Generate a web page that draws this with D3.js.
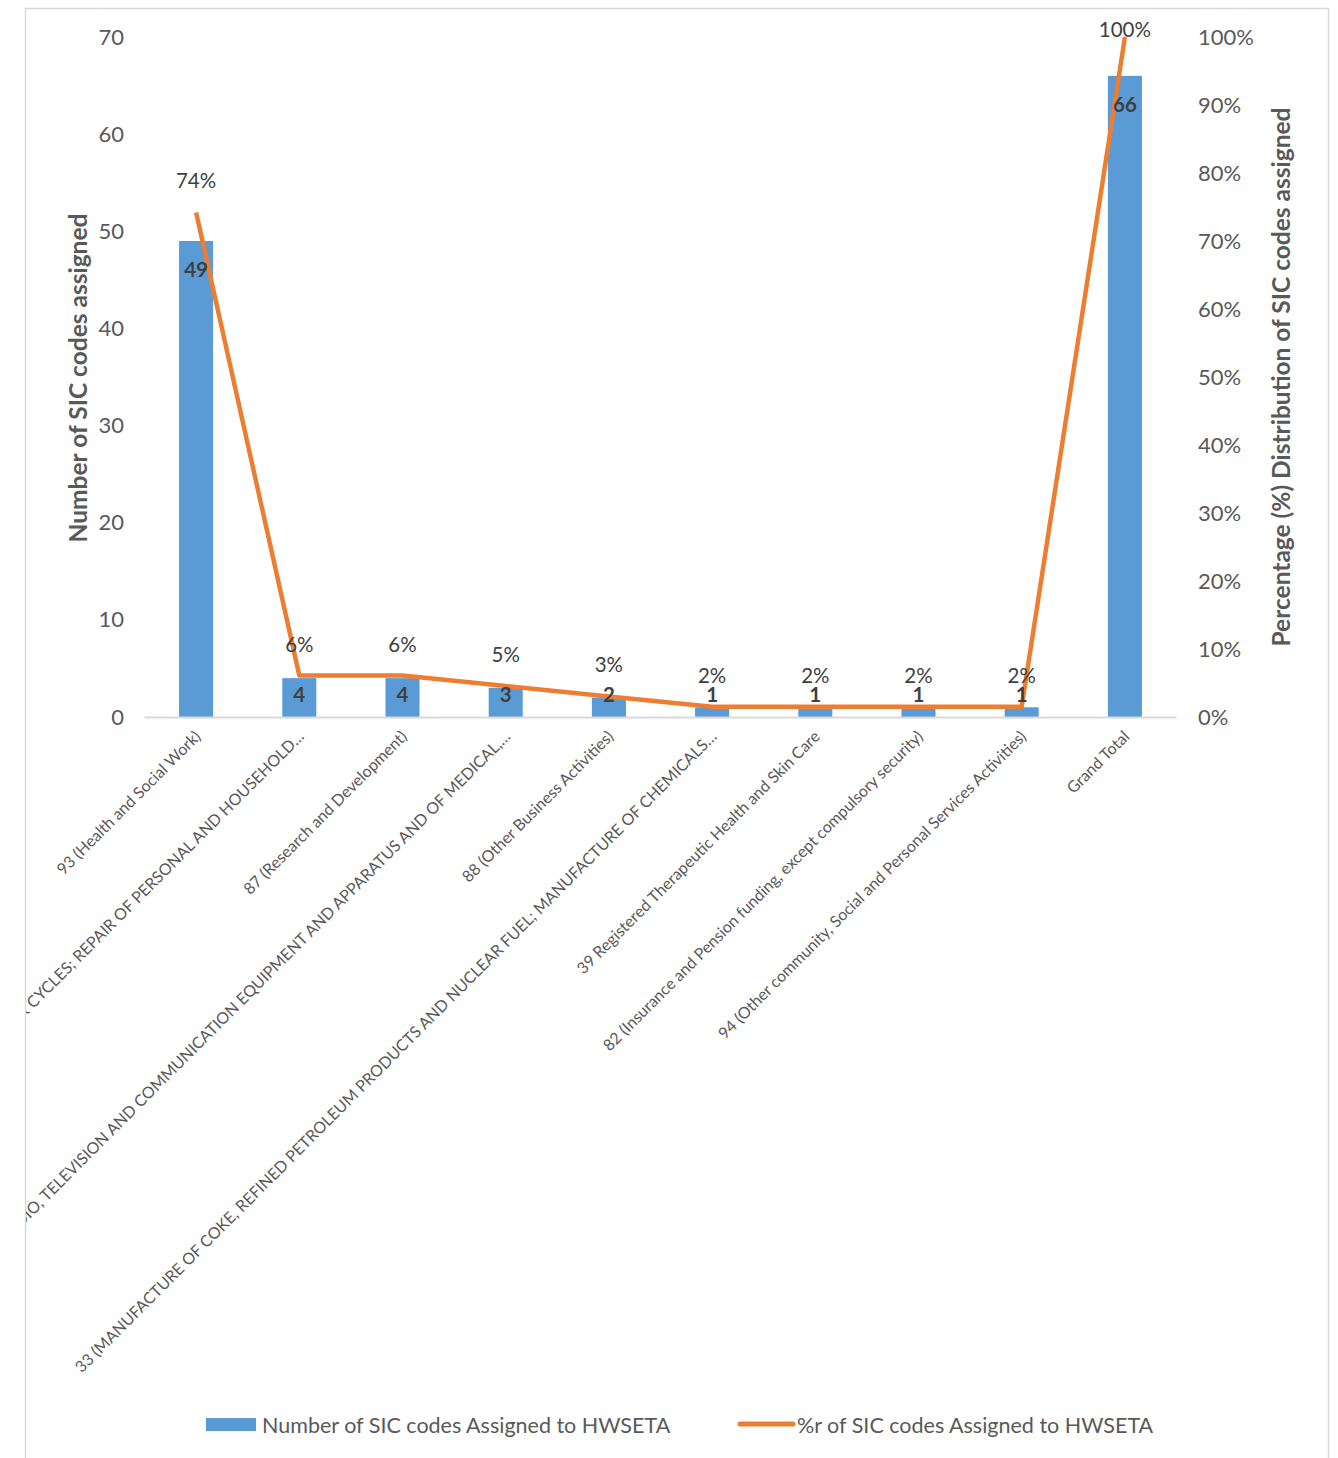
<!DOCTYPE html>
<html><head><meta charset="utf-8">
<script src="https://cdn.jsdelivr.net/npm/d3@7"></script>
<style>body{margin:0;background:#fff}svg{display:block}text{font-family:Lato,'Open Sans',sans-serif}</style>
</head><body><svg id="c" width="1338" height="1458"></svg>
<script>
const categories = [
  "93 (Health and Social Work)",
  "62 (RETAIL TRADE, EXCEPT OF MOTOR VEHICLES AND MOTOR CYCLES; REPAIR OF PERSONAL AND HOUSEHOLD…",
  "87 (Research and Development)",
  "34 (MANUFACTURE OF RADIO, TELEVISION AND COMMUNICATION EQUIPMENT AND APPARATUS AND OF MEDICAL,…",
  "88 (Other Business Activities)",
  "33 (MANUFACTURE OF COKE, REFINED PETROLEUM PRODUCTS AND NUCLEAR FUEL; MANUFACTURE OF CHEMICALS…",
  "39 Registered Therapeutic Health and Skin Care",
  "82 (Insurance and Pension funding, except compulsory security)",
  "94 (Other community, Social and Personal Services Activities)",
  "Grand Total"
];
const counts = [49, 4, 4, 3, 2, 1, 1, 1, 1, 66];
const shares = [0.742, 0.061, 0.061, 0.0455, 0.0303, 0.0152, 0.0152, 0.0152, 0.0152, 1.0];
const leftTicks = [0, 10, 20, 30, 40, 50, 60, 70];
const rightTicks = [0, 0.1, 0.2, 0.3, 0.4, 0.5, 0.6, 0.7, 0.8, 0.9, 1.0];
const seriesNames = ["Number of SIC codes Assigned to HWSETA", "%r of SIC codes Assigned to HWSETA"];
const axisTitles = ["Number of SIC codes assigned", "Percentage (%) Distribution of SIC codes assigned"];

const svg = d3.select("#c");
const blue = "#5b9bd5", orange = "#ed7d31", grey = "#595959", dark = "#404040";

// chart frame
svg.append("path").attr("d", "M25.5,1458 V8.5 H1328.5 V1458").attr("fill", "none").attr("stroke", "#d9d9d9").attr("stroke-width", 1.5);

const x = d3.scaleBand().domain(categories).range([144.5, 1176.5]).padding(0);
const yL = d3.scaleLinear().domain([0, 70]).range([717, 37]);
const yR = d3.scaleLinear().domain([0, 1]).range([717, 37]);
const bw = x.bandwidth() * 0.33;
const cx = d => x(d) + x.bandwidth() / 2;

// left axis
const gl = svg.append("g").attr("transform", "translate(124,0)")
  .call(d3.axisLeft(yL).tickValues(leftTicks).tickSize(0).tickPadding(0));
gl.select(".domain").remove();
gl.selectAll("text").attr("font-size", 22).attr("fill", grey).style("font-family", "Lato,'Open Sans',sans-serif");

// right axis
const gr = svg.append("g").attr("transform", "translate(1198,0)")
  .call(d3.axisRight(yR).tickValues(rightTicks).tickFormat(d3.format(".0%")).tickSize(0).tickPadding(0));
gr.select(".domain").remove();
gr.selectAll("text").attr("font-size", 22).attr("fill", grey).style("font-family", "Lato,'Open Sans',sans-serif");

// bars
svg.append("g").selectAll("rect").data(categories).join("rect")
  .attr("x", d => cx(d) - bw / 2).attr("width", bw)
  .attr("y", (d, i) => yL(counts[i])).attr("height", (d, i) => yL(0) - yL(counts[i]))
  .attr("fill", blue);

// baseline
svg.append("line").attr("x1", 144.5).attr("x2", 1176.5).attr("y1", 717.5).attr("y2", 717.5)
  .attr("stroke", "#d9d9d9").attr("stroke-width", 2);

// line
svg.append("path").datum(categories)
  .attr("d", d3.line().x(d => cx(d)).y((d, i) => yR(shares[i])))
  .attr("fill", "none").attr("stroke", orange).attr("stroke-width", 4.5).attr("stroke-linejoin", "round");

// bar value labels
svg.append("g").selectAll("text").data(categories).join("text")
  .attr("x", d => cx(d)).attr("y", (d, i) => Math.min(yL(counts[i]) + 28, 694))
  .attr("text-anchor", "middle").attr("dominant-baseline", "central")
  .attr("font-size", 20.5).attr("font-weight", "bold").attr("fill", dark)
  .text((d, i) => counts[i]);

// percentage labels
svg.append("g").selectAll("text").data(categories).join("text")
  .attr("x", d => cx(d)).attr("y", (d, i) => Math.max(yR(shares[i]) - 32, 29))
  .attr("text-anchor", "middle").attr("dominant-baseline", "central")
  .attr("font-size", 20.5).attr("fill", dark)
  .text((d, i) => d3.format(".0%")(shares[i]));

// category labels (clipped by chart frame)
svg.append("clipPath").attr("id", "clip").append("rect").attr("x", 26).attr("y", 0).attr("width", 1302).attr("height", 1458);
svg.append("g").attr("clip-path", "url(#clip)").selectAll("text").data(categories).join("text")
  .attr("transform", d => `translate(${cx(d) + 1},${733}) rotate(-45)`)
  .attr("text-anchor", "end").attr("dominant-baseline", "central")
  .attr("font-size", 16).attr("fill", grey)
  .text(d => d);

// axis titles
svg.append("text").attr("transform", "translate(77,378) rotate(-90)")
  .attr("text-anchor", "middle").attr("dominant-baseline", "central")
  .attr("font-size", 24.5).attr("font-weight", "bold").attr("fill", grey).text(axisTitles[0]);
svg.append("text").attr("transform", "translate(1280,377) rotate(-90)")
  .attr("text-anchor", "middle").attr("dominant-baseline", "central")
  .attr("font-size", 24.5).attr("font-weight", "bold").attr("fill", grey).text(axisTitles[1]);

// legend
const lg = svg.append("g");
lg.append("rect").attr("x", 206).attr("y", 1418).attr("width", 50).attr("height", 13).attr("fill", blue);
lg.append("text").attr("x", 262).attr("y", 1425).attr("dominant-baseline", "central")
  .attr("font-size", 21.5).attr("fill", grey).text(seriesNames[0]);
lg.append("line").attr("x1", 740).attr("x2", 793).attr("y1", 1424).attr("y2", 1424)
  .attr("stroke", orange).attr("stroke-width", 5).attr("stroke-linecap", "round");
lg.append("text").attr("x", 797).attr("y", 1425).attr("dominant-baseline", "central")
  .attr("font-size", 21.5).attr("fill", grey).text(seriesNames[1]);
</script></body></html>
